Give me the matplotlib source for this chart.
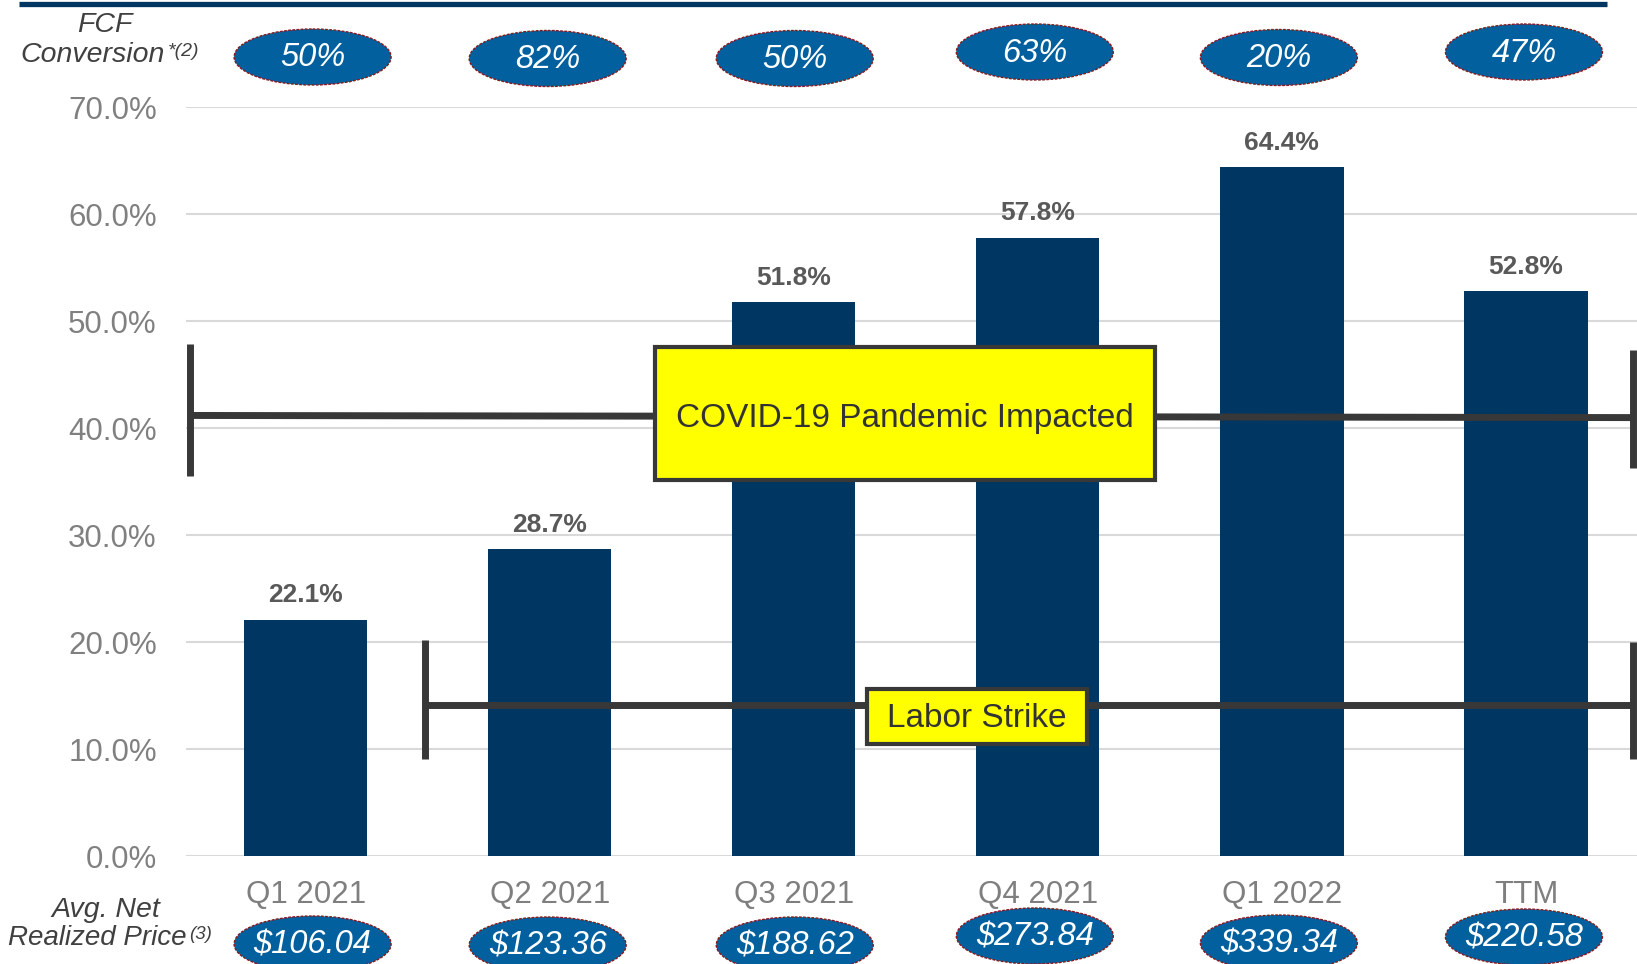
import matplotlib
matplotlib.use("Agg")
import matplotlib.pyplot as plt
from matplotlib.patches import Ellipse, Rectangle
from matplotlib.lines import Line2D

plt.rcParams['font.family'] = ['Liberation Sans', 'DejaVu Sans']

categories = ["Q1 2021", "Q2 2021", "Q3 2021", "Q4 2021", "Q1 2022", "TTM"]
margins = [22.1, 28.7, 51.8, 57.8, 64.4, 52.8]
value_labels = ["22.1%", "28.7%", "51.8%", "57.8%", "64.4%", "52.8%"]
fcf_conversion = ["50%", "82%", "50%", "63%", "20%", "47%"]
avg_price = ["$106.04", "$123.36", "$188.62", "$273.84", "$339.34", "$220.58"]
yticks = [0, 10, 20, 30, 40, 50, 60, 70]
ytick_labels = ["0.0%", "10.0%", "20.0%", "30.0%", "40.0%", "50.0%", "60.0%", "70.0%"]

W, H = 1637, 964
fig = plt.figure(figsize=(W / 100, H / 100), dpi=100)
fig.patch.set_facecolor("white")

ax = fig.add_axes([186 / W, 108 / H, 1 - 186 / W, (856.5 - 108) / H])
x = list(range(len(categories)))
ax.bar(x, margins, width=0.505, color="#003662", zorder=2)
ax.set_xlim(-0.49, 5.455)
ax.set_ylim(0, 70)
ax.set_yticks(yticks)
ax.set_yticklabels(ytick_labels)
ax.set_xticks(x)
ax.set_xticklabels(categories)
ax.tick_params(axis="y", length=0, pad=21, labelsize=22.5, labelcolor="#808080")
ax.tick_params(axis="x", length=0, pad=17, labelsize=22.5, labelcolor="#7f7f7f")
for s in ax.spines.values():
    s.set_visible(False)
ax.grid(axis="y", color="#d9d9d9", linewidth=1.5, zorder=0)
ax.set_axisbelow(True)

for xi, v, lab in zip(x, margins, value_labels):
    ax.annotate(lab, (xi, v), xytext=(0, 9), textcoords="offset points",
                ha="center", va="bottom", fontsize=19, fontweight="semibold",
                color="#595959", zorder=5)

bracket_c = "#383838"
# COVID-19 bracket
ax.plot([-0.474, 5.44], [41.2, 41.0], color=bracket_c, lw=5, zorder=3, clip_on=False, solid_capstyle="butt")
ax.plot([-0.474, -0.474], [35.5, 47.9], color=bracket_c, lw=5, zorder=3, clip_on=False, solid_capstyle="butt")
ax.plot([5.44, 5.44], [36.3, 47.3], color=bracket_c, lw=5, zorder=3, clip_on=False, solid_capstyle="butt")
ax.add_patch(Rectangle((1.43, 35.2), 3.48 - 1.43, 47.6 - 35.2, facecolor="#ffff00",
                       edgecolor="#383838", linewidth=3, zorder=4, clip_on=False))
ax.text(2.457, 40.9, "COVID-19 Pandemic Impacted", ha="center", va="center",
        fontsize=24, color="#333333", zorder=5)

# Labor strike bracket
ax.plot([0.49, 5.44], [14.1, 14.1], color=bracket_c, lw=5, zorder=3, clip_on=False, solid_capstyle="butt")
ax.plot([0.49, 0.49], [9.1, 20.2], color=bracket_c, lw=5, zorder=3, clip_on=False, solid_capstyle="butt")
ax.plot([5.44, 5.44], [9.1, 20.0], color=bracket_c, lw=5, zorder=3, clip_on=False, solid_capstyle="butt")
ax.add_patch(Rectangle((2.30, 10.5), 3.20 - 2.30, 15.6 - 10.5, facecolor="#ffff00",
                       edgecolor="#383838", linewidth=3, zorder=4, clip_on=False))
ax.text(2.75, 12.9, "Labor Strike", ha="center", va="center",
        fontsize=24, color="#333333", zorder=5)

# overlay axes in pixel coordinates
ov = fig.add_axes([0, 0, 1, 1], zorder=10)
ov.set_xlim(0, W)
ov.set_ylim(H, 0)
ov.axis("off")
ov.patch.set_alpha(0)

ov.add_line(Line2D([19, 1607], [3.5, 3.5], color="#003662", lw=3.8, solid_capstyle="butt"))

centers_px = [ax.transData.transform((xi, 0))[0] for xi in x]
top_dx = [7, -2, 1, -3, -3, -2]
top_y = [57, 58.5, 58.5, 52, 57.5, 52]
bot_y = [944, 945, 945, 936, 943, 937]
ell_fill = "#02609e"
for cx, dx, ty, by, t1, t2 in zip(centers_px, top_dx, top_y, bot_y, fcf_conversion, avg_price):
    for cy, t in ((ty, t1), (by, t2)):
        ov.add_patch(Ellipse((cx + dx, cy), 157, 56, facecolor=ell_fill,
                             edgecolor="#8b1a1a", linewidth=1, linestyle=(0, (2, 1))))
        ov.text(cx + dx, cy + 1, t, ha="center", va="center", fontsize=23.5,
                style="italic", color="white")

lab_c = "#404040"
renderer = fig.canvas.get_renderer()
ov.text(105, 32, "FCF", ha="center", va="baseline", fontsize=20.5, style="italic", color=lab_c)
t_conv = ov.text(20, 62, "Conversion", ha="left", va="baseline", fontsize=20.5, style="italic", color=lab_c)
ov.text(106, 917, "Avg. Net", ha="center", va="baseline", fontsize=20.5, style="italic", color=lab_c)
t_real = ov.text(8, 945, "Realized Price", ha="left", va="baseline", fontsize=20, style="italic", color=lab_c)
x_conv_end = t_conv.get_window_extent(renderer).x1
x_real_end = t_real.get_window_extent(renderer).x1
ov.text(x_conv_end + 3, 56, "*(2)", ha="left", va="baseline", fontsize=14, style="italic", color=lab_c)
ov.text(x_real_end + 3, 939, "(3)", ha="left", va="baseline", fontsize=13.5, style="italic", color=lab_c)

fig.savefig("out.png", dpi=100)
